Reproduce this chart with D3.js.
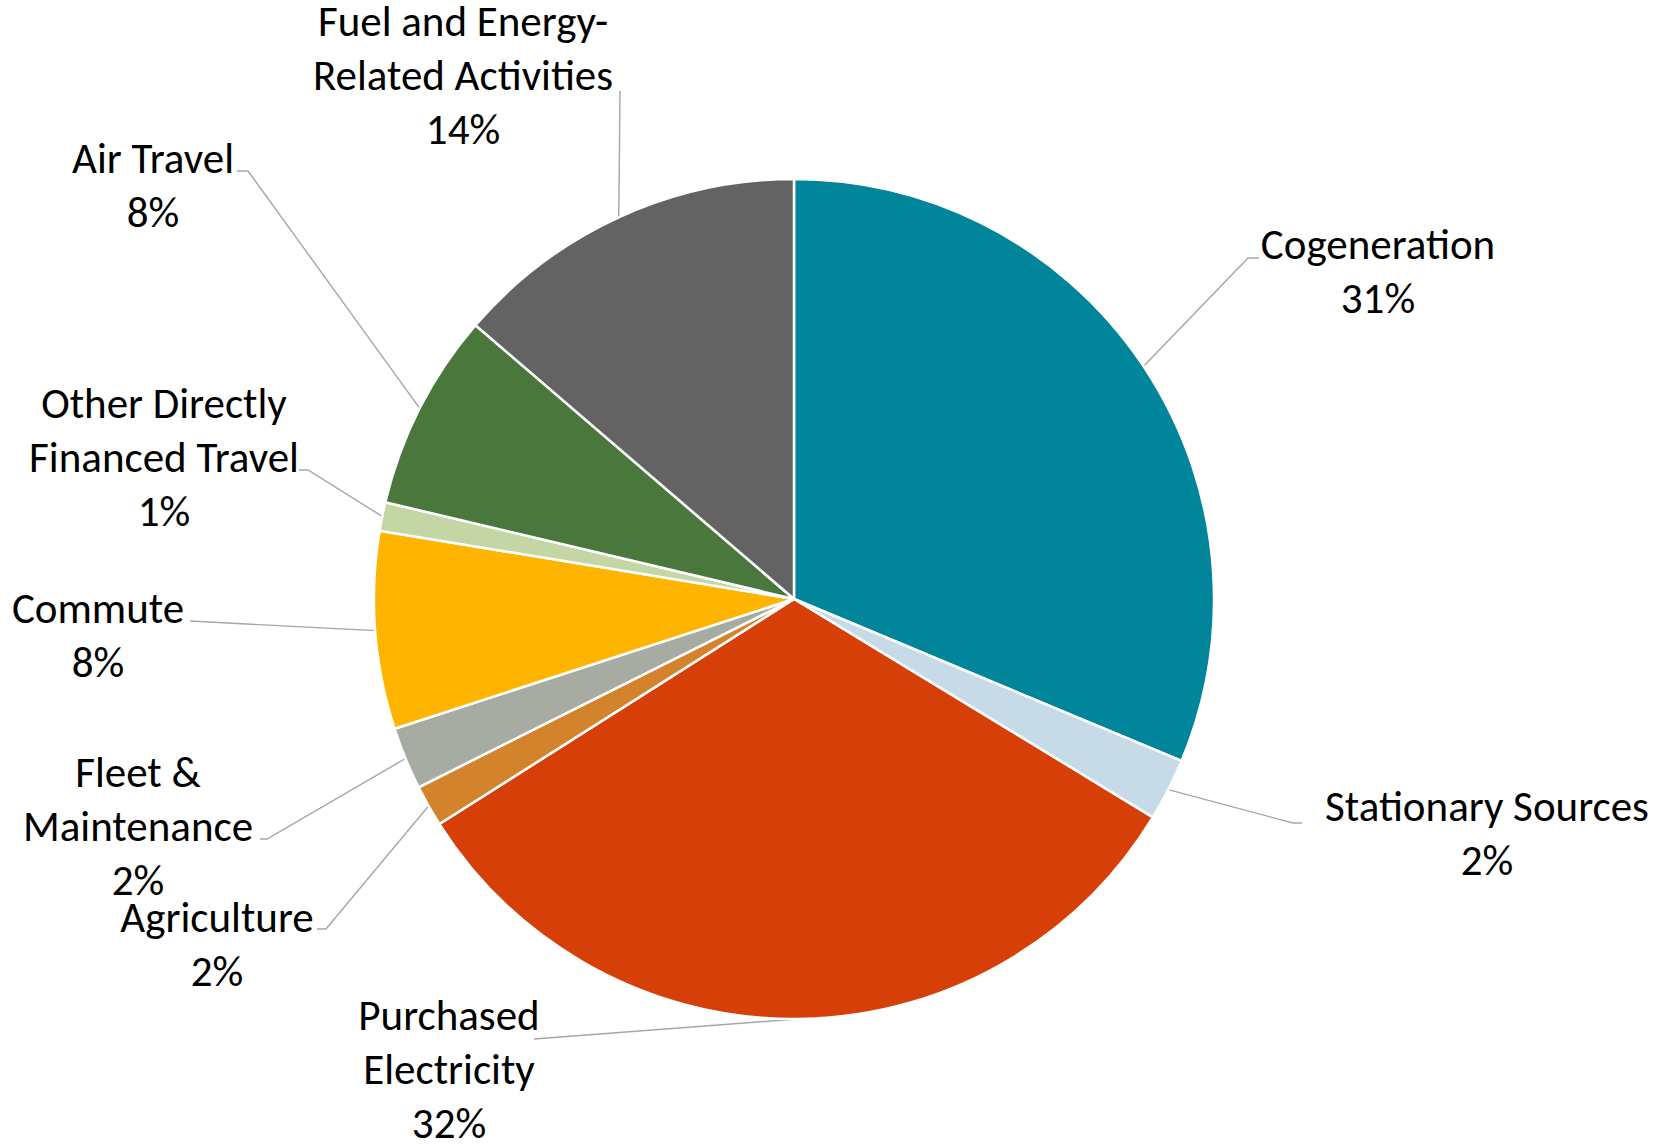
<!DOCTYPE html>
<html>
<head>
<meta charset="utf-8">
<script src="https://cdn.jsdelivr.net/npm/d3@7/dist/d3.min.js"></script>
<style>
  html, body { margin: 0; padding: 0; background: #ffffff; }
  svg { display: block; }
  .lbl { font-family: Carlito, Calibri, Lato, "Open Sans", sans-serif; font-size: 43px; fill: #000000; }
</style>
</head>
<body>
<svg id="chart" width="1676" height="1144"></svg>
<script>
// Emission sources, clockwise from 12 o'clock (share of total, %)
const categories = [
  "Cogeneration", "Stationary Sources", "Purchased Electricity", "Agriculture",
  "Fleet & Maintenance", "Commute", "Other Directly Financed Travel",
  "Air Travel", "Fuel and Energy-Related Activities"
];
const values = [31.3, 2.4, 32.3, 1.6, 2.4, 7.6, 1.1, 7.6, 13.7];

// How each category name wraps in its label
const labelLines = [
  ["Cogeneration"],
  ["Stationary Sources"],
  ["Purchased", "Electricity"],
  ["Agriculture"],
  ["Fleet &", "Maintenance"],
  ["Commute"],
  ["Other Directly", "Financed Travel"],
  ["Air Travel"],
  ["Fuel and Energy-", "Related Activities"]
];

const sliceColors = [
  "#00859B", "#C6DAE7", "#D73F09", "#D3832B", "#A7ACA2",
  "#FFB500", "#C4D6A4", "#4A773C", "#636363"
];

// Label placement relative to the pie centre:
// text = centre of first line, leader = where the leader leaves the label,
// stub = short horizontal run before the leader heads to the slice.
const labelLayout = [
  { text: [584, -355], leader: [465, -341], stub: 11 },
  { text: [693, 207],  leader: [508, 224],  stub: 9 },
  { text: [-345, 416], leader: [-260, 440], stub: 0 },
  { text: [-577, 318], leader: [-477, 330], stub: -9 },
  { text: [-656, 173], leader: [-534, 240], stub: -7 },
  { text: [-696, 9],   leader: [-604, 22],  stub: 0 },
  { text: [-630, -196], leader: [-495, -129], stub: -9 },
  { text: [-641, -441], leader: [-557, -428], stub: -11 },
  { text: [-331, -578], leader: [-174, -508], stub: 0 }
];

const width = 1676, height = 1144;
const cx = 794, cy = 599, radius = 420;
const lineGap = 54;

const svg = d3.select("#chart");
svg.append("rect").attr("width", width).attr("height", height).attr("fill", "#ffffff");

const g = svg.append("g").attr("transform", `translate(${cx},${cy})`);

const total = d3.sum(values);
const data = categories.map((name, i) => ({
  name, value: values[i], lines: labelLines[i], color: sliceColors[i], layout: labelLayout[i]
}));

const pie = d3.pie().value(d => d.value).sort(null);
const arcs = pie(data);

const arc = d3.arc().innerRadius(0).outerRadius(radius);
const rim = d3.arc().innerRadius(radius).outerRadius(radius);

// Leader lines (drawn under the slices so they end cleanly at the rim)
g.append("g")
  .selectAll("polyline")
  .data(arcs)
  .join("polyline")
  .attr("fill", "none")
  .attr("stroke", "#A6A6A6")
  .attr("stroke-width", 1.4)
  .attr("points", d => {
    const [lx, ly] = d.data.layout.leader;
    const s = d.data.layout.stub;
    const end = rim.centroid(d);
    const pts = [[lx, ly]];
    if (s !== 0) pts.push([lx - s, ly]);
    pts.push(end);
    return pts.map(p => p.join(",")).join(" ");
  });

// Slices
g.append("g")
  .selectAll("path")
  .data(arcs)
  .join("path")
  .attr("d", arc)
  .attr("fill", d => d.data.color)
  .attr("stroke", "#ffffff")
  .attr("stroke-width", 2.5)
  .attr("stroke-linejoin", "round");

// Labels: category name lines followed by the rounded share
const pct = v => Math.round(v / total * 100) + "%";
const labels = g.append("g")
  .selectAll("text")
  .data(arcs)
  .join("text")
  .attr("class", "lbl")
  .attr("text-anchor", "middle");

labels.each(function(d) {
  const t = d3.select(this);
  const [tx, ty] = d.data.layout.text;
  const lines = d.data.lines.concat([pct(d.data.value)]);
  lines.forEach((ln, i) => {
    t.append("tspan")
      .attr("x", tx)
      .attr("y", ty + i * lineGap)
      .attr("dy", "0.35em")
      .text(ln);
  });
});
</script>
</body>
</html>
